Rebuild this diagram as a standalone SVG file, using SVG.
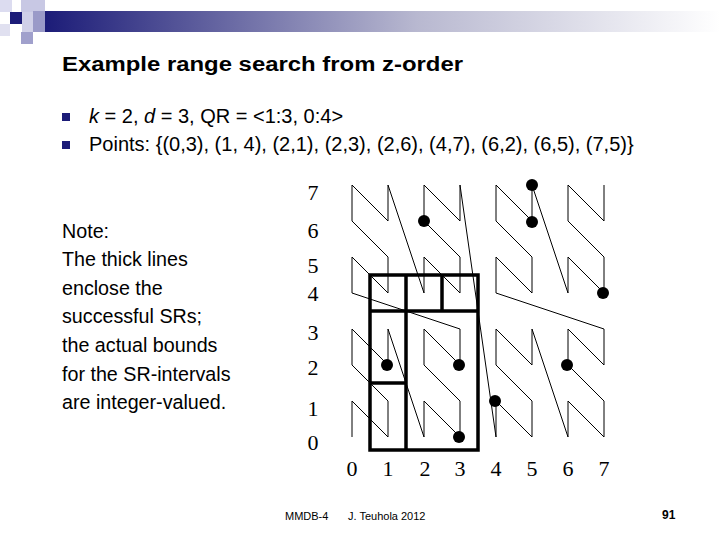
<svg xmlns="http://www.w3.org/2000/svg" width="720" height="540" viewBox="0 0 720 540">
<defs>
<linearGradient id="bar" x1="0" x2="1" y1="0" y2="0">
<stop offset="0" stop-color="#1c1c78"/><stop offset="0.55" stop-color="#b8b8d0"/><stop offset="1" stop-color="#ffffff"/>
</linearGradient>
<style>
.s{font-family:"Liberation Sans",Arial,sans-serif;fill:#000}
.t{font-family:"Liberation Serif","Times New Roman",serif;font-size:22px;fill:#000;text-anchor:middle}
.c{fill:none;stroke:#000;stroke-width:1}
.k{fill:none;stroke:#000;stroke-width:3.5}
</style>
</defs>
<g id="header">
<rect x="45" y="11" width="675" height="21" fill="url(#bar)"/>
<rect x="0" y="0" width="12" height="12" fill="#dcdcf0"/>
<rect x="21" y="0" width="24" height="12" fill="#c8c8e4"/>
<rect x="10" y="12" width="12" height="12" fill="#1c1c78"/>
<rect x="33" y="11" width="12" height="21" fill="#9a9ac8"/>
<rect x="0" y="24" width="10" height="12" fill="#e0e0f0"/>
<rect x="21" y="32" width="12" height="12" fill="#a0a0cc"/>
<rect x="22" y="12" width="11" height="20" fill="#d0d0e8"/>
</g>
<text class="s" x="62" y="71" font-size="20" font-weight="bold" textLength="401" lengthAdjust="spacingAndGlyphs">Example range search from z-order</text>
<rect x="62" y="113" width="8" height="8" fill="#1c1c78"/>
<rect x="62" y="141" width="8" height="8" fill="#1c1c78"/>
<text class="s" x="89" y="123" font-size="20"><tspan font-style="italic">k</tspan> = 2, <tspan font-style="italic">d</tspan> = 3, QR = &lt;1:3, 0:4&gt;</text>
<text class="s" x="89" y="151" font-size="20">Points: {(0,3), (1, 4), (2,1), (2,3), (2,6), (4,7), (6,2), (6,5), (7,5)}</text>
<g id="note" class="s" font-size="19.7">
<text x="62" y="238">Note:</text>
<text x="62" y="266">The thick lines</text>
<text x="62" y="295">enclose the</text>
<text x="62" y="323">successful SRs;</text>
<text x="62" y="352">the actual bounds</text>
<text x="62" y="381">for the SR-intervals</text>
<text x="62" y="409">are integer-valued.</text>
</g>
<g id="yaxis">
<text class="t" x="313" y="200">7</text>
<text class="t" x="313" y="238">6</text>
<text class="t" x="313" y="273">5</text>
<text class="t" x="313" y="301">4</text>
<text class="t" x="313" y="340">3</text>
<text class="t" x="313" y="375">2</text>
<text class="t" x="313" y="416">1</text>
<text class="t" x="313" y="450">0</text>
</g>
<g id="xaxis">
<text class="t" x="352" y="476">0</text>
<text class="t" x="388" y="476">1</text>
<text class="t" x="425" y="476">2</text>
<text class="t" x="460" y="476">3</text>
<text class="t" x="496" y="476">4</text>
<text class="t" x="532" y="476">5</text>
<text class="t" x="568" y="476">6</text>
<text class="t" x="604" y="476">7</text>
</g>
<g id="connectors">
<polyline class="c" points="352,437 352,401 388,437 388,401 352,365 352,329 388,365 388,329 424,437 424,401 460,437 460,401 424,365 424,329 460,365 460,329 352,293 352,257 388,293 388,257 352,221 352,185 388,221 388,185 424,293 424,257 460,293 460,257 424,221 424,185 460,221 460,185 496,437 496,401 532,437 532,401 496,365 496,329 532,365 532,329 568,437 568,401 604,437 604,401 568,365 568,329 604,365 604,329 496,293 496,257 532,293 532,257 496,221 496,185 532,221 532,185 568,293 568,257 604,293 604,257 568,221 568,185 604,221 604,185"/>
</g>
<g id="ranges">
<rect class="k" x="370" y="275" width="108" height="175"/>
<line class="k" x1="370" y1="311" x2="478" y2="311"/>
<line class="k" x1="406" y1="275" x2="406" y2="450"/>
<line class="k" x1="442" y1="275" x2="442" y2="311"/>
<line class="k" x1="370" y1="383" x2="406" y2="383"/>
</g>
<g id="points" fill="#000">
<circle cx="424" cy="221" r="6"/>
<circle cx="532" cy="185" r="6"/>
<circle cx="532" cy="222" r="6"/>
<circle cx="603" cy="293" r="6"/>
<circle cx="387" cy="365" r="6"/>
<circle cx="459" cy="365" r="6"/>
<circle cx="567" cy="365" r="6"/>
<circle cx="495" cy="401" r="6"/>
<circle cx="459" cy="437" r="6"/>
</g>
<text class="s" x="285" y="520" font-size="11">MMDB-4</text>
<text class="s" x="348" y="520" font-size="11">J. Teuhola 2012</text>
<text class="s" x="662" y="519" font-size="12" font-weight="bold">91</text>
</svg>
